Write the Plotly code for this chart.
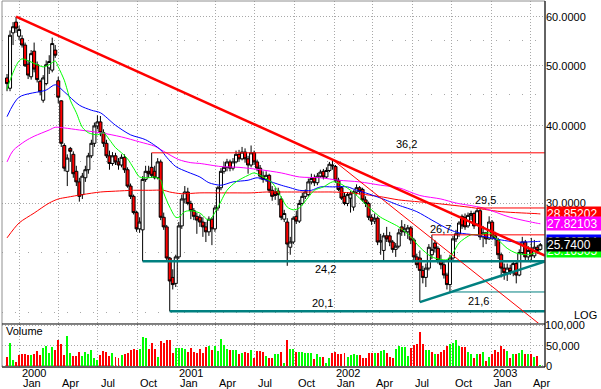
import numpy as np
import pandas as pd
import plotly.graph_objects as go

# ---------------- data (weekly) ----------------
first_week = "1999-12-03"

opens = [47.8,46.0,56.5,58.8,55.8,55.3,54.0,50.3,48.0,52.8,
 50.2,47.2,44.0,46.8,49.6,49.2,53.0,47.3,43.9,37.2,
 33.8,36.8,36.0,33.8,32.5,31.0,33.0,34.0,35.8,37.5,
 40.0,40.6,39.0,37.5,35.8,34.8,35.8,35.0,34.6,35.6,
 34.0,32.0,30.8,29.0,27.3,27.2,32.8,33.8,34.3,33.8,
 33.0,35.0,28.5,27.5,24.5,22.8,22.3,24.6,27.6,30.5,
 31.3,30.0,29.2,28.6,28.5,28.0,27.5,27.0,28.3,27.3,
 29.5,31.8,33.8,34.3,35.0,34.2,35.0,36.0,35.4,36.3,
 35.4,34.6,36.2,35.0,34.2,33.2,32.8,33.3,31.5,31.3,
 31.4,30.5,28.3,28.0,25.5,26.0,28.6,28.1,30.0,30.8,
 31.0,32.5,33.0,32.4,33.2,33.8,33.1,33.9,34.6,34.4,
 32.7,31.8,30.8,30.0,30.6,29.6,31.3,31.8,31.6,30.4,
 30.0,28.5,28.1,28.4,26.0,25.2,26.6,26.6,26.0,25.3,
 25.6,27.5,27.0,27.0,27.4,26.2,24.6,24.5,23.4,22.8,
 23.6,24.8,25.9,25.4,24.3,23.9,23.0,22.2,24.5,26.3,
 26.8,28.6,28.5,27.6,28.7,28.9,27.8,29.2,26.5,26.9,
 26.3,28.0,26.6,26.2,24.8,23.6,23.2,23.6,23.2,24.0,
 23.0,25.0,26.0,24.6,25.2,24.7,25.5,25.3]

highs = [48.5,57.0,58.8,60.0,58.0,56.0,54.5,51.0,53.0,54.5,
 50.8,47.5,48.3,51.0,52.0,55.5,54.0,48.0,44.0,37.5,
 36.0,37.0,36.4,34.5,33.0,33.6,34.5,36.2,38.0,40.5,
 41.6,41.5,39.5,38.0,36.5,36.3,36.2,35.5,36.0,36.0,
 34.3,32.3,31.0,29.2,28.5,33.2,34.5,34.5,36.2,34.5,
 35.5,35.3,29.0,27.7,24.6,23.5,24.8,28.0,31.0,32.0,
 31.8,30.3,29.5,29.0,28.8,28.5,28.0,28.6,28.5,29.8,
 32.0,34.2,35.0,35.4,35.3,35.5,36.5,36.6,37.0,36.8,
 35.8,37.2,36.5,35.3,34.6,33.8,33.8,33.5,32.0,31.8,
 31.8,30.8,29.3,28.4,26.5,28.6,29.2,30.4,31.2,31.6,
 32.9,33.5,33.4,33.6,34.0,34.1,34.3,35.0,35.3,34.6,
 33.0,32.0,31.2,31.3,31.4,31.5,32.2,32.0,31.8,30.8,
 30.2,28.8,28.9,28.6,26.8,26.9,27.5,27.0,26.2,25.9,
 27.3,28.2,27.8,27.7,27.6,26.4,24.9,25.2,23.8,24.0,
 25.8,26.7,26.2,25.6,24.8,24.2,23.2,24.8,26.6,27.2,
 28.1,28.8,28.9,29.0,29.2,29.1,29.5,29.4,27.6,27.0,
 28.6,28.2,27.0,26.4,25.0,24.0,24.0,23.9,24.3,24.3,
 25.3,26.5,26.2,25.6,26.4,26.2,25.7,25.9]

lows = [45.5,45.5,54.0,56.5,55.0,53.5,49.8,47.6,47.5,48.8,
 47.0,44.8,43.6,46.5,48.5,48.8,51.5,43.5,37.0,33.8,
 32.0,35.0,33.0,32.0,30.2,30.5,32.5,33.5,35.5,37.0,
 39.5,38.5,37.0,35.5,34.0,34.5,34.6,34.0,34.3,33.6,
 31.8,30.5,28.8,27.0,26.9,24.2,32.5,33.0,33.0,32.8,
 32.8,28.2,27.2,24.2,20.1,21.8,22.0,24.4,27.3,30.0,
 29.8,28.3,28.2,26.8,27.5,26.5,26.0,26.6,25.7,27.0,
 29.2,31.5,33.5,33.8,33.8,33.9,34.8,35.0,35.2,34.9,
 33.5,34.3,34.6,33.8,32.8,32.4,32.5,31.2,30.3,30.4,
 29.8,28.2,28.0,23.8,24.8,25.8,27.8,27.9,29.8,30.5,
 30.8,32.2,32.0,32.1,33.0,32.8,32.9,33.7,34.0,32.4,
 31.4,30.4,29.8,29.7,29.0,29.2,31.0,31.0,30.2,29.6,
 28.2,27.7,27.8,25.7,24.8,24.2,26.0,25.6,25.0,24.6,
 25.4,26.6,26.6,26.3,25.8,24.2,23.6,20.8,22.3,22.0,
 23.4,24.4,25.0,24.0,23.5,22.7,21.8,21.6,24.3,26.0,
 26.5,27.3,27.2,27.4,28.2,27.3,27.6,26.2,25.5,25.8,
 26.2,26.2,25.6,24.4,22.8,22.6,22.5,23.0,22.9,22.3,
 22.9,24.8,24.3,24.2,24.2,24.5,24.9,25.2]

closes = [46.8,56.0,57.8,57.5,57.2,54.0,50.0,48.3,52.3,49.4,
 47.5,45.4,47.8,50.2,50.8,54.3,52.0,44.5,37.5,34.2,
 35.5,36.4,33.5,32.5,30.8,33.2,34.0,35.8,37.5,40.0,
 40.6,39.0,37.5,35.8,34.8,35.8,35.0,34.6,35.6,34.0,
 32.0,30.8,29.0,27.3,28.0,32.8,33.8,33.5,33.3,33.0,
 35.0,28.5,27.5,24.5,22.5,22.2,24.6,27.6,30.5,31.3,
 30.0,29.2,28.6,28.2,28.0,27.5,27.0,28.3,27.3,29.5,
 31.8,33.8,34.3,35.0,34.2,35.0,36.0,35.4,36.3,35.4,
 34.6,36.2,35.0,34.2,33.2,32.8,33.3,31.5,30.8,30.9,
 31.0,28.5,28.9,25.8,26.0,28.4,28.1,30.0,30.8,31.3,
 32.5,32.9,32.4,33.2,33.7,33.1,33.9,34.7,34.5,32.7,
 31.6,30.6,30.0,31.0,31.1,31.3,31.8,31.4,30.4,30.0,
 28.5,28.1,28.4,26.0,26.1,26.6,26.3,26.0,25.3,25.6,
 26.9,27.0,27.3,27.4,26.2,24.6,23.9,23.4,22.8,23.6,
 25.5,25.3,25.4,24.3,23.9,23.0,22.2,24.5,26.3,26.8,
 27.9,27.6,27.5,28.7,28.9,27.6,29.2,26.5,26.9,26.3,
 28.0,26.6,26.3,24.8,23.6,23.2,23.6,23.3,24.0,23.0,
 25.0,26.0,24.6,25.2,24.7,25.5,25.2,25.74]

volume_thousands = [21.7,58,15,9,27,30,30,27,27,30,
 37,27,44,50,33,47,39,65,54,27,
 75,33,26,26,36,26,36,31,40,19,
 15,27,37,36,26,33,22,21,27,30,
 32,40,42,40,42,73,71,42,58,42,
 23,63,58,65,65,32,44,44,44,42,
 36,46,34,32,42,32,48,50,40,50,
 37,67,52,42,40,40,40,29,33,36,
 32,40,21,37,37,36,25,21,21,29,
 29,36,8,65,42,42,36,35,
 36,33,32,32,17,29,23,23,8,19,
 32,34,29,29,33,23,27,30,27,27,
 21,21,32,32,33,33,37,40,32,23,
 21,42,50,47,48,26,44,52,54,84,
 56,41,39,35,31,31,35,41,50,56,
 58,64,50,48,48,35,31,21,31,30,
 35,12,23,31,41,35,49,43,37,21,
 31,30,33,39,31,30,31,23,25,2]

# moving averages (week index, value)
green_ma_week = [0,1,3,4,5,8,10,12,14,16,17,19,20,21,23,25,27,30,32,34,36,38,40,42,44,47,49,51,52,54,
                 56,57,59,61,64,67,70,73,76,80,82,85,88,91,93,95,97,100,102,105,108,110,114,117,120,124,
                 127,130,134,137,141,146,148,150,154,157,160,163,166,169,173,175,177]
green_ma_value = [45.8,47.4,50.0,50.9,51.3,50.7,50.2,49.8,50.2,50.9,49.8,47.4,45.7,44.0,42.0,39.8,39.0,38.7,
                  39.0,38.0,36.9,36.2,35.4,34.2,33.1,33.0,33.1,32.7,31.2,29.6,28.5,28.5,29.1,29.2,28.95,28.2,
                  29.6,31.5,32.5,33.3,33.6,33.1,32.4,30.7,29.6,29.3,29.5,30.7,31.5,31.9,32.5,32.4,31.5,30.6,
                  29.6,28.5,28.0,27.5,26.5,25.5,24.6,24.35,24.95,25.9,26.7,26.7,26.9,26.2,25.4,24.95,24.8,
                  24.95,25.16505]
blue_ma_week = [0,4,13,16,19,24,28,31,36,41,46,51,53,56,60,64,67,71,75,80,83,86,91,94,97,101,104,108,113,116,
                119,124,127,130,136,141,147,150,155,159,164,169,176,177]
blue_ma_value = [41.4,44.5,45.7,46.6,45.4,43.2,42.4,42.0,40.1,38.7,38.0,36.6,35.6,34.4,33.7,33.1,32.4,32.1,
                 32.5,32.7,33.0,32.7,32.1,31.8,31.5,31.5,31.9,31.9,31.9,31.5,31.2,30.6,30.2,29.8,29.1,28.2,
                 27.2,26.9,26.7,26.5,26.2,26.0,26.05,26.06704]
magenta_ma_week = [0,2,6,9,14,16,19,24,31,38,44,49,52,57,61,64,71,77,84,91,97,104,110,117,124,130,137,144,
                   149,158,167,176,177]
magenta_ma_value = [35.0,36.5,37.8,38.5,39.4,39.8,39.7,39.4,39.0,38.4,37.7,37.1,36.4,35.3,34.9,34.8,34.4,34.3,
                    34.0,33.6,33.1,33.0,32.7,32.5,32.1,31.8,30.9,30.5,30.05,29.5,28.5,27.87,27.82103]
red_ma_week = [0,4,9,14,17,20,25,31,36,42,47,52,54,58,64,70,75,81,86,92,97,103,108,114,119,125,130,141,153,
               164,176,177]
red_ma_value = [26.4,27.9,28.95,30.05,30.5,30.7,31.0,31.3,31.4,31.5,31.5,31.5,31.3,31.1,31.2,31.2,31.2,31.2,
                31.3,31.3,31.3,31.3,31.3,31.2,31.0,30.7,30.4,30.05,29.6,29.1,28.88,28.85202]

# drawn support / resistance levels
level_values = [36.2, 29.5, 26.7, 24.2, 21.6, 20.1]
level_start_week = [48, 156, 141, 45, 147, 54]
level_colors = ["#ff0000", "#ff0000", "#ff0000", "#008080", "#008080", "#008080"]
level_widths = [1, 1, 1, 2.5, 1, 2.5]
level_label_dates = ["2002-06-19", "2002-12-19", "2002-09-06", "2001-12-13", "2002-12-03", "2001-12-06"]
level_label_shift = [9, 8, 6, -8, -9, 8]

# drawn trend lines: anchor weeks and prices
trend_week = [3, 108]
trend_price = [60.0, 35.3]
steep_week = [108, 170]
steep_price = [35.3, 20.35]
rising_week = [137, 177]
rising_price = [20.8, 24.05]

# axes
tick_dates = ["2000-01-01", "2000-04-01", "2000-07-01", "2000-10-01",
              "2001-01-01", "2001-04-01", "2001-07-01", "2001-10-01",
              "2002-01-01", "2002-04-01", "2002-07-01", "2002-10-01",
              "2003-01-01", "2003-04-01"]
tick_months = ["Jan", "Apr", "Jul", "Oct"] * 3 + ["Jan", "Apr"]
year_dates = ["2000-01-01", "2001-01-01", "2002-01-01", "2003-01-01"]
year_labels = ["2000", "2001", "2002", "2003"]
price_ticks = [30, 40, 50, 60]
price_minor_ticks = [20, 25, 35, 45, 55]
volume_ticks = [0, 50000]
volume_top_tick = 100000
x_range = ["1999-11-21 08:00", "2003-05-05 19:00"]
vol_range = [-2500, 105000]
vol_domain = [0, 0.1175]

# ---------------- build ----------------
FONT = "Liberation Sans, Arial, sans-serif"
n = len(closes)
dates = pd.date_range(first_week, periods=n, freq="7D")
volumes = [v * 1000 for v in volume_thousands]
vol_colors = []
for i in range(n):
    up = closes[i] > (closes[i - 1] if i > 0 else opens[i])
    vol_colors.append("#00ff00" if up else "#ff0000")

x_end = pd.Timestamp(x_range[1])


def extend(w, p, t_end):
    t0 = dates[w[0]].value
    t1 = dates[w[1]].value
    lp0, lp1 = np.log(p[0]), np.log(p[1])
    return float(np.exp(lp0 + (lp1 - lp0) * (t_end.value - t0) / (t1 - t0)))


fig = go.Figure()

for wk, val, col in [(red_ma_week, red_ma_value, "#ff0000"),
                     (magenta_ma_week, magenta_ma_value, "#ff00ff"),
                     (blue_ma_week, blue_ma_value, "#0000ff"),
                     (green_ma_week, green_ma_value, "#00ff00")]:
    fig.add_trace(go.Scatter(x=[dates[w] for w in wk], y=val, mode="lines",
                             line=dict(color=col, width=1, shape="spline", smoothing=0.8),
                             xaxis="x", yaxis="y", hoverinfo="skip"))

fig.add_trace(go.Candlestick(
    x=dates, open=opens, high=highs, low=lows, close=closes,
    increasing=dict(line=dict(color="black", width=1), fillcolor="white"),
    decreasing=dict(line=dict(color="black", width=1), fillcolor="#ff0000"),
    whiskerwidth=0, xaxis="x", yaxis="y"))

fig.add_trace(go.Bar(x=dates, y=volumes, marker=dict(color=vol_colors, line=dict(width=0)),
                     width=2.3 * 86400000, xaxis="x2", yaxis="y2"))

# top volume scale label, drawn as text at the right edge of the volume axis
fig.add_trace(go.Scatter(x=[x_end], y=[volume_top_tick], mode="text",
                         text=[f"{volume_top_tick:,}"], textposition="middle right",
                         textfont=dict(family=FONT, size=11, color="black"),
                         cliponaxis=False, xaxis="x2", yaxis="y2", hoverinfo="skip"))

for v, w, c, lw in zip(level_values, level_start_week, level_colors, level_widths):
    fig.add_trace(go.Scatter(x=[dates[w], x_end], y=[v, v], mode="lines",
                             line=dict(color=c, width=lw), xaxis="x", yaxis="y", hoverinfo="skip"))

fig.add_trace(go.Scatter(x=[dates[trend_week[0]], x_end],
                         y=[trend_price[0], extend(trend_week, trend_price, x_end)],
                         mode="lines", line=dict(color="#ff0000", width=2.5), xaxis="x", yaxis="y"))
fig.add_trace(go.Scatter(x=[dates[steep_week[0]], x_end],
                         y=[steep_price[0], extend(steep_week, steep_price, x_end)],
                         mode="lines", line=dict(color="#ff0000", width=1), xaxis="x", yaxis="y"))
fig.add_trace(go.Scatter(x=[dates[rising_week[0]], x_end],
                         y=[rising_price[0], extend(rising_week, rising_price, x_end)],
                         mode="lines", line=dict(color="#008080", width=2.5), xaxis="x", yaxis="y"))

annotations = []
for v, d, s in zip(level_values, level_label_dates, level_label_shift):
    annotations.append(dict(x=d, y=np.log10(v), xref="x", yref="y", yshift=s,
                            text=f"{v:.1f}".replace(".", ","), showarrow=False,
                            font=dict(family=FONT, size=11, color="black")))
for d, t in zip(tick_dates, tick_months):
    annotations.append(dict(x=d, y=-0.0437, xref="x2", yref="paper", xanchor="left", xshift=1,
                            yanchor="middle", text=t, showarrow=False,
                            font=dict(family=FONT, size=11, color="black")))
for d, t in zip(year_dates, year_labels):
    annotations.append(dict(x=d, y=-0.0164, xref="x2", yref="paper", xanchor="left", xshift=0,
                            yanchor="middle", text=t, showarrow=False,
                            font=dict(family=FONT, size=11, color="black")))
annotations.append(dict(x=0, y=0.0984, xref="paper", yref="paper", xanchor="left", xshift=2,
                        yanchor="middle", text="Volume", showarrow=False,
                        font=dict(family=FONT, size=11, color="black")))
annotations.append(dict(x=1, y=0.1421, xref="paper", yref="paper", xanchor="right", xshift=54,
                        yanchor="middle", text="LOG", showarrow=False,
                        font=dict(family=FONT, size=11, color="black")))

boxes = [(red_ma_value[-1], "#ff0000", f"{red_ma_value[-1]:.5f}"),
         (magenta_ma_value[-1], "#ff00ff", f"{magenta_ma_value[-1]:.5f}"),
         (blue_ma_value[-1], "#0000ff", f"{blue_ma_value[-1]:.5f}"),
         (green_ma_value[-1], "#00ff00", f"{green_ma_value[-1]:.5f}"),
         (closes[-1], "#000000", f"{closes[-1]:.4f}")]
for v, col, txt in boxes:
    annotations.append(dict(x=1, y=np.log10(v), xref="paper", yref="y", xanchor="left", xshift=1,
                            yanchor="middle", text=txt, showarrow=False, bgcolor=col,
                            width=54, height=13, align="left", borderpad=0,
                            font=dict(family=FONT, size=12, color="white")))

GRID = "#a8a8a8"
shapes = [
    dict(type="rect", xref="paper", yref="paper", x0=0, x1=1, y0=0, y1=1,
         line=dict(color="#909090", width=1)),
    dict(type="line", xref="paper", yref="paper", x0=1, x1=1, y0=0, y1=1,
         line=dict(color="black", width=1)),
    dict(type="line", xref="paper", yref="paper", x0=0, x1=1, y0=0, y1=0,
         line=dict(color="black", width=1)),
    dict(type="line", xref="paper", yref="paper", x0=0, x1=1, y0=vol_domain[1], y1=vol_domain[1],
         line=dict(color="black", width=1)),
]

fig.update_layout(
    width=601, height=389,
    margin=dict(l=2, r=56, t=1, b=22),
    paper_bgcolor="white", plot_bgcolor="white",
    showlegend=False, boxgap=0.0, boxgroupgap=0, bargap=0,
    font=dict(family=FONT, size=11, color="black"),
    annotations=annotations, shapes=shapes,
    xaxis=dict(domain=[0, 1], anchor="y", range=x_range, type="date",
               tickmode="array", tickvals=tick_dates, showticklabels=False, ticks="",
               showgrid=True, gridcolor=GRID, griddash="1px,2px", gridwidth=1,
               zeroline=False, showline=False, rangeslider=dict(visible=False)),
    xaxis2=dict(domain=[0, 1], anchor="y2", range=x_range, type="date", matches="x",
                tickmode="array", tickvals=tick_dates, showticklabels=False, ticks="",
                showgrid=True, gridcolor=GRID, griddash="1px,2px", gridwidth=1,
                zeroline=False, showline=False),
    yaxis=dict(domain=[0.1202, 1], anchor="x", type="log", side="right",
               range=[np.log10(19.25), np.log10(63.59)],
               tickmode="array", tickvals=price_ticks, tickformat=".4f", ticks="",
               showgrid=True, gridcolor=GRID, griddash="1px,2px", gridwidth=1,
               minor=dict(tickmode="array", tickvals=price_minor_ticks, showgrid=True,
                          gridcolor=GRID, griddash="1px,12px", gridwidth=1, ticks=""),
               zeroline=False, showline=False, tickfont=dict(family=FONT, size=11, color="black")),
    yaxis2=dict(domain=vol_domain, anchor="x2", side="right", range=vol_range,
                tickmode="array", tickvals=volume_ticks, tickformat=",d", ticks="",
                showgrid=True, gridcolor=GRID, griddash="1px,2px", gridwidth=1,
                minor=dict(tickmode="array", tickvals=[volume_top_tick], showgrid=True,
                           gridcolor=GRID, griddash="1px,2px", gridwidth=1, ticks=""),
                zeroline=False, showline=False, tickfont=dict(family=FONT, size=11, color="black")),
)

fig.write_html("out.html", config={"displayModeBar": False},
               post_script="document.body.style.margin='0';document.body.style.overflow='hidden';")
